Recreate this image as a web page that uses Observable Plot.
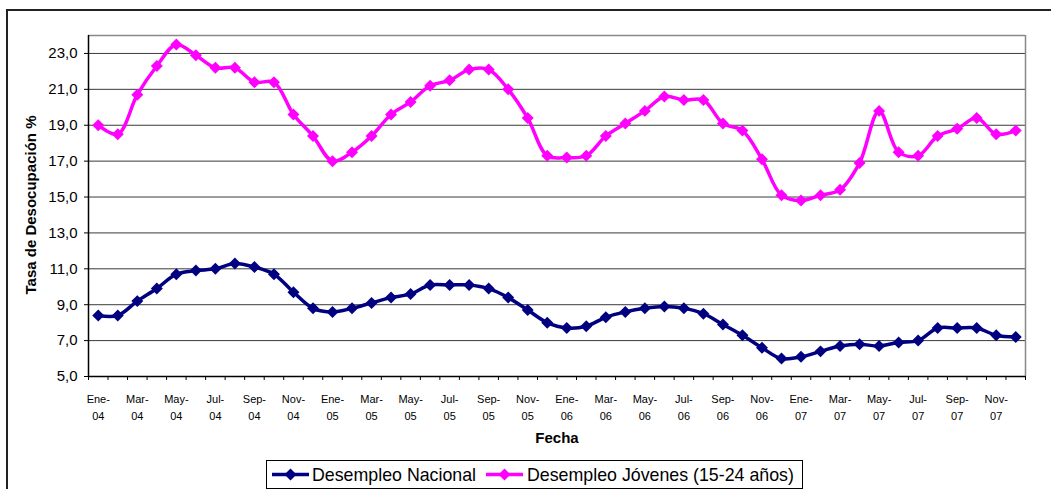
<!DOCTYPE html>
<html>
<head>
<meta charset="utf-8">
<script src="https://cdn.jsdelivr.net/npm/d3@7"></script>
<script src="https://cdn.jsdelivr.net/npm/@observablehq/plot@0.6"></script>
<style>
  body { margin: 0; background: #fff; font-family: "Liberation Sans", Arial, sans-serif; }
  #wrap { position: relative; width: 1051px; height: 489px; overflow: hidden; background: #fff; }
  #frame { position: absolute; left: 6px; top: 9px; width: 1200px; height: 700px; border: 2px solid #222; }
  #chart { position: absolute; left: 0; top: 0; }
  #ytitle { position: absolute; left: 30px; top: 205px; transform: translate(-50%, -50%) rotate(-90deg);
            white-space: nowrap; font-weight: bold; font-size: 15px; color: #000; }
  #xtitle { position: absolute; left: 557px; top: 437px; transform: translate(-50%, -50%);
            white-space: nowrap; font-weight: bold; font-size: 15px; color: #000; }
  #legend { position: absolute; left: 266px; top: 460px; width: 537px; height: 29px; box-sizing: border-box;
            border: 1px solid #000; background: #fff; }
  .lg-sw { position: absolute; top: 0; }
  .lg-tx { position: absolute; top: 50%; transform: translateY(-50%); font-size: 17.8px; white-space: nowrap; color: #000; }
</style>
</head>
<body>
<div id="wrap">
  <div id="frame"></div>
  <div id="chart"></div>
  <div id="ytitle"></div>
  <div id="xtitle"></div>
  <div id="legend"></div>
</div>
<script>
const fechas = [
  "Ene-04","Feb-04","Mar-04","Abr-04","May-04","Jun-04","Jul-04","Ago-04","Sep-04","Oct-04","Nov-04","Dic-04",
  "Ene-05","Feb-05","Mar-05","Abr-05","May-05","Jun-05","Jul-05","Ago-05","Sep-05","Oct-05","Nov-05","Dic-05",
  "Ene-06","Feb-06","Mar-06","Abr-06","May-06","Jun-06","Jul-06","Ago-06","Sep-06","Oct-06","Nov-06","Dic-06",
  "Ene-07","Feb-07","Mar-07","Abr-07","May-07","Jun-07","Jul-07","Ago-07","Sep-07","Oct-07","Nov-07","Dic-07"
];
const nacional = [
  8.4, 8.4, 9.2, 9.9, 10.7, 10.9, 11.0, 11.3, 11.1, 10.7, 9.7, 8.8,
  8.6, 8.8, 9.1, 9.4, 9.6, 10.1, 10.1, 10.1, 9.9, 9.4, 8.7, 8.0,
  7.7, 7.8, 8.3, 8.6, 8.8, 8.9, 8.8, 8.5, 7.9, 7.3, 6.6, 6.0,
  6.1, 6.4, 6.7, 6.8, 6.7, 6.9, 7.0, 7.7, 7.7, 7.7, 7.3, 7.2
];
const jovenes = [
  19.0, 18.5, 20.7, 22.3, 23.5, 22.9, 22.2, 22.2, 21.4, 21.4, 19.6, 18.4,
  17.0, 17.5, 18.4, 19.6, 20.3, 21.2, 21.5, 22.1, 22.1, 21.0, 19.4, 17.3,
  17.2, 17.3, 18.4, 19.1, 19.8, 20.6, 20.4, 20.4, 19.1, 18.7, 17.1, 15.1,
  14.8, 15.1, 15.4, 16.9, 19.8, 17.5, 17.3, 18.4, 18.8, 19.4, 18.5, 18.7
];
const series = ["Desempleo Nacional", "Desempleo Jóvenes (15-24 años)"];
const colores = ["#000080", "#FF00FF"];
const yTicks = [5, 7, 9, 11, 13, 15, 17, 19, 21, 23];
const yMax = 24;
const yTitle = "Tasa de Desocupación %";
const xTitle = "Fecha";

const n = fechas.length;
const nacRows = nacional.map((v, i) => ({i, v, fecha: fechas[i]}));
const jovRows = jovenes.map((v, i) => ({i, v, fecha: fechas[i]}));
const boundaries = d3.range(n + 1).map(k => k - 0.5);
const labelIdx = d3.range(0, n, 2);

const chart = Plot.plot({
  width: 1051,
  height: 489,
  marginLeft: 88,
  marginRight: 26,
  marginTop: 35,
  marginBottom: 113,
  style: { fontFamily: "Liberation Sans, Arial, sans-serif", color: "#000", background: "transparent", overflow: "visible" },
  x: { type: "linear", domain: [-0.5, n - 0.5] },
  y: { domain: [yTicks[0], yMax] },
  marks: [
    Plot.ruleY(yTicks.slice(1), { stroke: "#3a3a3a", strokeWidth: 1 }),
    Plot.ruleY([yMax], { stroke: "#888", strokeWidth: 1.5 }),
    Plot.ruleX([n - 0.5], { stroke: "#888", strokeWidth: 1.5 }),
    Plot.ruleY([yTicks[0]], { stroke: "#000", strokeWidth: 1.5 }),
    Plot.ruleX([-0.5], { stroke: "#000", strokeWidth: 1.5 }),
    Plot.axisY({ ticks: yTicks, tickSize: 4, tickPadding: 7, fontSize: 15, label: null,
                 tickFormat: d => d.toFixed(1).replace(".", ",") }),
    Plot.axisX({ ticks: boundaries, tickSize: 4, tickFormat: () => "", label: null }),
    Plot.axisX({ ticks: labelIdx, tickSize: 0, tickPadding: 15, fontSize: 11, lineHeight: 1.5, label: null,
                 tickFormat: i => fechas[i].replace("-", "-\n") }),
    Plot.line(nacRows, { x: "i", y: "v", stroke: colores[0], strokeWidth: 3.5, curve: "catmull-rom" }),
    Plot.dot(nacRows, { x: "i", y: "v", symbol: "diamond2", r: 5.4, fill: colores[0], stroke: "none" }),
    Plot.line(jovRows, { x: "i", y: "v", stroke: colores[1], strokeWidth: 3.5, curve: "catmull-rom" }),
    Plot.dot(jovRows, { x: "i", y: "v", symbol: "diamond2", r: 5.4, fill: colores[1], stroke: "none" })
  ]
});
document.getElementById("chart").appendChild(chart);
document.getElementById("ytitle").textContent = yTitle;
document.getElementById("xtitle").textContent = xTitle;

// Legend
const legend = document.getElementById("legend");
const swX = [5, 219];
const txX = [45, 260];
series.forEach((name, k) => {
  const sw = document.createElementNS("http://www.w3.org/2000/svg", "svg");
  sw.setAttribute("class", "lg-sw");
  sw.setAttribute("width", 38);
  sw.setAttribute("height", 27);
  sw.style.left = swX[k] + "px";
  sw.innerHTML = `<line x1="0" x2="37" y1="13.5" y2="13.5" stroke="${colores[k]}" stroke-width="3.5"/>` +
                 `<path d="M18.5,7.5 L24.5,13.5 L18.5,19.5 L12.5,13.5 Z" fill="${colores[k]}"/>`;
  legend.appendChild(sw);
  const tx = document.createElement("div");
  tx.className = "lg-tx";
  tx.style.left = txX[k] + "px";
  tx.textContent = name;
  legend.appendChild(tx);
});
</script>
</body>
</html>
